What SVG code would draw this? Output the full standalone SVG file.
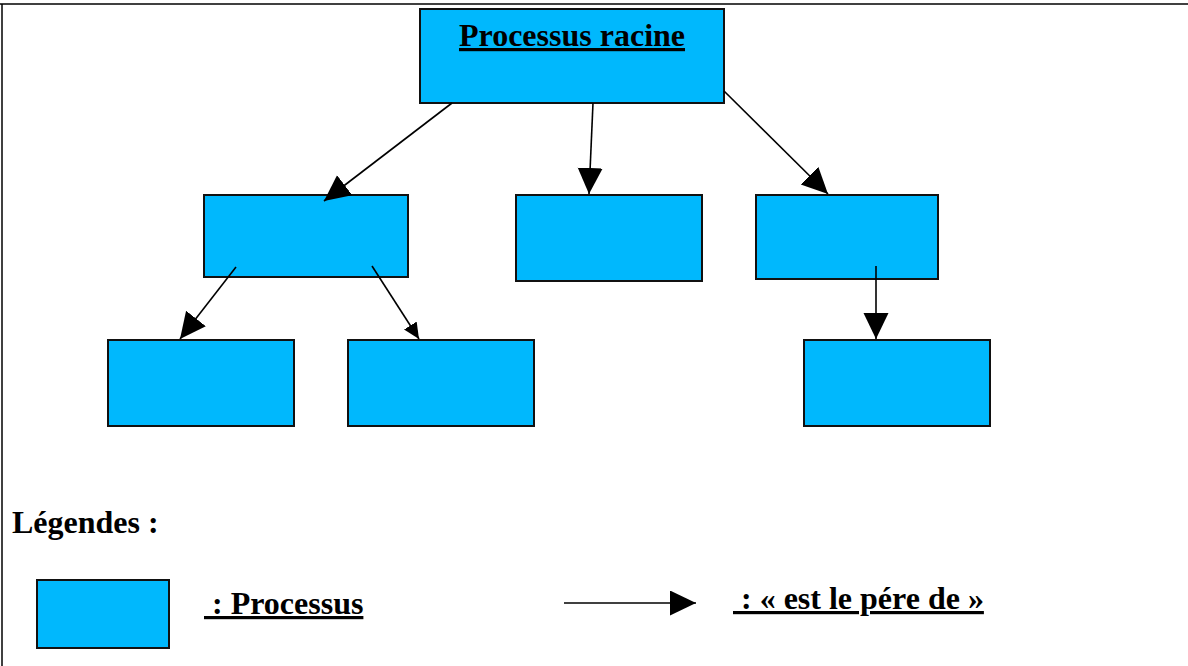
<svg xmlns="http://www.w3.org/2000/svg" width="1188" height="666" viewBox="0 0 1188 666">
  <style>
    .proc { fill: #00b8fd; stroke: #111; stroke-width: 2; }
    .link { stroke: #000; stroke-width: 1.6; fill: none; }
    .lbl { font-family: "Liberation Serif", "Times New Roman", serif; font-weight: bold; font-size: 32px; fill: #000; }
    .u { text-decoration: underline; white-space: pre; }
  </style>
  <defs>
    <marker id="head" markerUnits="userSpaceOnUse" markerWidth="27" markerHeight="26" refX="26" refY="12.5" orient="auto">
      <path d="M0,0 L26,12.5 L0,25 z" fill="#000"/>
    </marker>
    <marker id="headSmall" markerUnits="userSpaceOnUse" markerWidth="17" markerHeight="16" refX="16" refY="7.5" orient="auto">
      <path d="M0,0 L16,7.5 L0,15 z" fill="#000"/>
    </marker>
  </defs>

  <!-- page frame -->
  <g id="frame">
    <line x1="0" y1="4" x2="1188" y2="4" stroke="#000" stroke-width="1.5"/>
    <line x1="2" y1="4" x2="2" y2="666" stroke="#000" stroke-width="1.5"/>
  </g>

  <g id="root">
    <rect class="proc" x="420" y="9" width="304" height="94"/>
    <text class="lbl u" x="572" y="46" text-anchor="middle">Processus racine</text>
  </g>
  <g id="child-left"><rect class="proc" x="204" y="195" width="204" height="82"/></g>
  <g id="child-middle"><rect class="proc" x="516" y="195" width="186" height="86"/></g>
  <g id="child-right"><rect class="proc" x="756" y="195" width="182" height="84"/></g>
  <g id="grandchild-1"><rect class="proc" x="108" y="340" width="186" height="86"/></g>
  <g id="grandchild-2"><rect class="proc" x="348" y="340" width="186" height="86"/></g>
  <g id="grandchild-3"><rect class="proc" x="804" y="340" width="186" height="86"/></g>

  <!-- parent/child links, drawn over the boxes -->
  <g id="connectors">
    <line class="link" x1="452" y1="103" x2="324" y2="201" marker-end="url(#head)"/>
    <line class="link" x1="593" y1="103" x2="589" y2="194" marker-end="url(#head)"/>
    <line class="link" x1="724" y1="91" x2="828" y2="194" marker-end="url(#head)"/>
    <line class="link" x1="236" y1="267" x2="180" y2="339" marker-end="url(#head)"/>
    <line class="link" x1="372" y1="266" x2="419" y2="339" marker-end="url(#headSmall)"/>
    <line class="link" x1="876" y1="266" x2="876" y2="339" marker-end="url(#head)"/>
  </g>

  <!-- key -->
  <g id="legend">
    <text class="lbl" x="12" y="533">Légendes :</text>
    <rect class="proc" x="37" y="580" width="132" height="68"/>
    <text class="lbl u" x="204" y="614"> : Processus</text>
    <line class="link" x1="564" y1="603" x2="696" y2="603" marker-end="url(#head)"/>
    <text class="lbl u" x="733" y="609"> : « est le pére de »</text>
  </g>
</svg>
